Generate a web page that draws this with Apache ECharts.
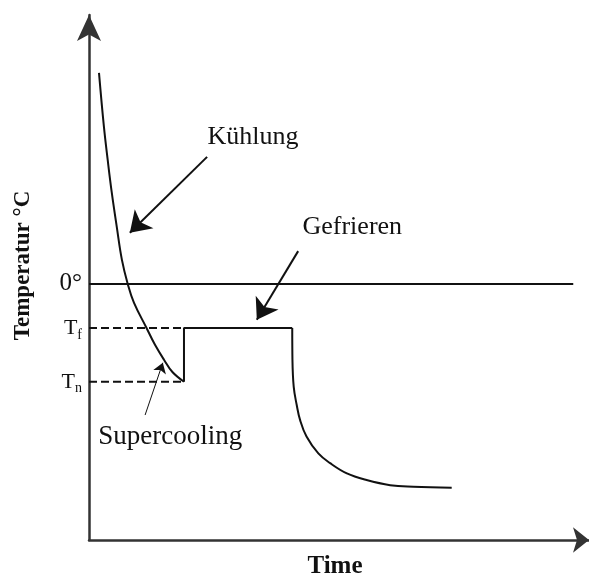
<!DOCTYPE html>
<html>
<head>
<meta charset="utf-8">
<title>Temperatur</title>
<script src="https://cdn.jsdelivr.net/npm/echarts@6/dist/echarts.min.js"></script>
<style>
    html, body { margin: 0; padding: 0; background: #fff; }
    #chart { width: 589px; height: 577px; }
</style>
</head>
<body>
<div id="chart"></div>
<script>
// levels (arbitrary units, 0 = freezing point)
const TF = -8.6;
const TN = -19.1;
const yTicks = [0, TF, TN];

// cooling down to nucleation temperature
const coolingCurve = [
    [2.03, 41.2], [3.03, 30.7], [3.8, 24.2], [4.63, 17.8], [5.65, 11.1], [6.69, 4.7],
    [7.87, 0], [9.15, -3.7], [11.69, -8.6], [13.41, -11.9], [15.24, -14.8], [16.95, -17.2], [19.3, TN]
];
// jump back to Tf and freezing plateau
const plateau = [[19.3, TN], [19.3, TF], [41.3, TF]];
// cooling of the frozen product
const frozenCurve = [
    [41.3, TF], [41.34, -14.8], [41.6, -20.1], [42.2, -23.6], [42.9, -26.6], [44.2, -29.8],
    [46.6, -33.1], [49.0, -35.0], [52.4, -37.0], [56.4, -38.3], [61.2, -39.3], [65.9, -39.6], [73.7, -39.8]
];
const zeroLine = [[0, 0], [98.4, 0]];
const tfLine = [[0, TF], [19.3, TF]];
const tnLine = [[0, TN], [19.3, TN]];

// annotations: text, position, font size, arrow start, arrow tip, arrow size
const labels = ['Kühlung', 'Gefrieren', 'Supercooling'];
const labelPos = [[33.3, 28.7], [53.5, 11.1], [16.5, -29.9]];
const labelSize = [26, 26, 27];
const arrowFrom = [[24.0, 24.8], [42.5, 6.4], [11.4, -25.6]];
const arrowTo = [[8.3, 10.0], [34.1, -7.0], [15.0, -15.4]];
const arrowSize = [20, 20, 10];
const arrowWidth = [2, 2, 1];

const serif = "'Liberation Serif', 'DejaVu Serif', serif";
const ink = '#111';

let myChart = echarts.init(document.getElementById('chart'));

function line(name, data, extra) {
    return Object.assign({
        name: name,
        type: 'line',
        data: data,
        symbol: 'none',
        silent: true,
        lineStyle: { color: ink, width: 2 }
    }, extra || {});
}

let option = {
    animation: false,
    backgroundColor: '#fff',
    grid: {
        left: 89,
        right: 0,
        top: 15,
        bottom: 37,
        outerBoundsMode: 'none'
    },
    xAxis: {
        type: 'value',
        min: 0,
        max: 101.6,
        name: 'Time',
        nameLocation: 'middle',
        nameGap: 14,
        nameTextStyle: {
            fontFamily: serif,
            fontWeight: 'bold',
            fontSize: 25,
            color: ink,
            padding: [0, 8, 0, 0]
        },
        axisLine: {
            onZero: false,
            symbol: ['none', 'arrow'],
            symbolSize: [19, 16],
            lineStyle: { color: '#333', width: 2.5 }
        },
        axisTick: { show: false },
        axisLabel: { show: false },
        splitLine: { show: false }
    },
    yAxis: {
        type: 'value',
        min: -50,
        max: 52.5,
        name: 'Temperatur °C',
        nameLocation: 'middle',
        nameGap: 54,
        nameTextStyle: {
            fontFamily: serif,
            fontWeight: 'bold',
            fontSize: 23,
            color: ink,
            padding: [0, 0, 0, 24]
        },
        axisLine: {
            onZero: false,
            symbol: ['none', 'arrow'],
            symbolSize: [18, 26],
            lineStyle: { color: '#333', width: 2.5 }
        },
        axisTick: { show: false },
        axisLabel: {
            customValues: yTicks,
            margin: 7,
            formatter: function (v) {
                if (v === 0) return '{n|0°}';
                if (v === TF) return '{t|T}{s|f}';
                if (v === TN) return '{t|T}{s|n}';
                return '';
            },
            rich: {
                n: { fontFamily: serif, fontSize: 25, color: ink },
                t: { fontFamily: serif, fontSize: 22, lineHeight: 28, color: ink },
                s: { fontFamily: serif, fontSize: 14, lineHeight: 14, verticalAlign: 'bottom', color: ink }
            }
        },
        splitLine: { show: false }
    },
    series: [
        line('zero', zeroLine),
        line('Tf', tfLine, { lineStyle: { color: ink, width: 2, type: [8, 4] } }),
        line('Tn', tnLine, { lineStyle: { color: ink, width: 2, type: [8, 4] } }),
        line('Kühlung', coolingCurve, { smooth: 0.4 }),
        line('Gefrieren', plateau),
        line('Nachkühlung', frozenCurve, {
            smooth: 0.4,
            markLine: {
                silent: true,
                animation: false,
                symbol: ['none', 'arrow'],
                label: { show: false },
                data: arrowFrom.map((p, i) => [
                    { coord: p, symbolSize: 0, lineStyle: { color: ink, width: arrowWidth[i], type: 'solid' } },
                    { coord: arrowTo[i], symbolSize: arrowSize[i] }
                ])
            },
            markPoint: {
                silent: true,
                symbol: 'circle',
                symbolSize: 0,
                label: {
                    show: true,
                    position: 'inside',
                    formatter: '{b}',
                    fontFamily: serif,
                    color: ink
                },
                data: labels.map((name, i) => ({
                    name: name,
                    coord: labelPos[i],
                    label: { fontSize: labelSize[i] }
                }))
            }
        })
    ]
};

myChart.setOption(option);
</script>
</body>
</html>
